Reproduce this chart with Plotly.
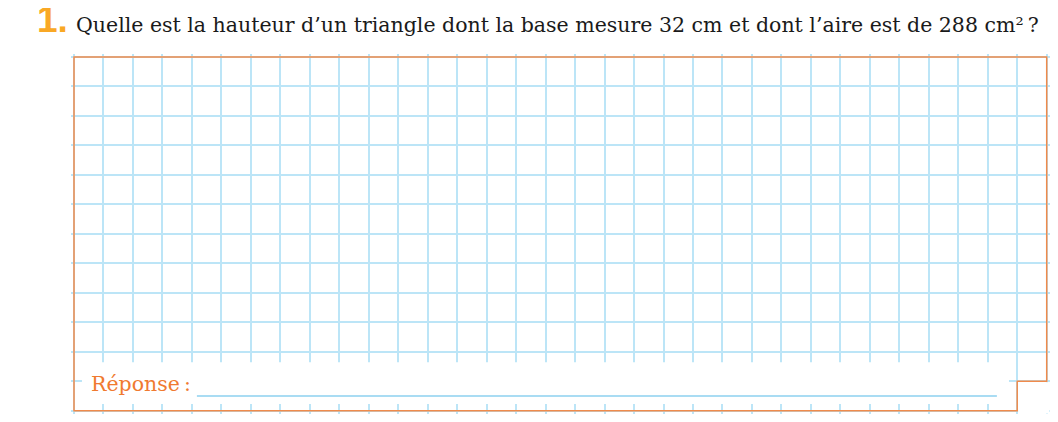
import plotly.graph_objects as go

# worksheet content
question_num = "1."
base_cm = 32
area_cm2 = 288
question = "Quelle est la hauteur d’un triangle dont la base mesure {} cm et dont l’aire est de {} cm²\u202f?".format(base_cm, area_cm2)
answer_label = "Réponse\u202f:"

# squared paper
n_cols = 33
n_rows = 12

# the page body adds an 8px margin, so the figure is drawn 8px in
off = 8
W, H = 1058 - 2 * off, 422 - 2 * off
box_left, box_right = 74 - off, 1046.7 - off
box_top, box_bottom = 57 - off, 410.8 - off
cell = (box_right - box_left) / n_cols
pad = 0.1  # a bit of room so the border is not clipped

orange = "#F08A4B"
grid_blue = "#BCE5F7"
serif = "DejaVu Serif, serif"

fig = go.Figure()
# invisible trace so the axes are drawn
fig.add_trace(go.Scatter(x=[0, n_cols], y=[0, n_rows], mode="markers",
                         marker=dict(opacity=0, size=1), hoverinfo="skip", showlegend=False))

fig.update_layout(
    width=W, height=H,
    margin=dict(l=0, r=0, t=0, b=0),
    paper_bgcolor="white", plot_bgcolor="white",
    showlegend=False,
    xaxis=dict(range=[-pad, n_cols + pad],
               domain=[(box_left - pad * cell) / W, min(1, (box_right + pad * cell) / W)],
               dtick=1, tick0=0, showgrid=True, gridcolor=grid_blue, gridwidth=2,
               showticklabels=False, zeroline=False, showline=False, ticks=""),
    yaxis=dict(range=[n_rows + pad, -pad],
               domain=[max(0, 1 - (box_bottom + pad * cell) / H), 1 - (box_top - pad * cell) / H],
               dtick=1, tick0=0, showgrid=True, gridcolor=grid_blue, gridwidth=2,
               showticklabels=False, zeroline=False, showline=False, ticks=""),
)

shapes = []
# white band for the answer
shapes.append(dict(type="rect", xref="x", yref="y", x0=0.27, x1=n_cols - 1.28, y0=n_rows - 1.65, y1=n_rows - 0.23,
                   fillcolor="white", line=dict(width=0), layer="above"))
# cut-out bottom right corner
shapes.append(dict(type="rect", xref="x", yref="y", x0=n_cols - 1 + 0.03, x1=n_cols + pad, y0=n_rows - 1 + 0.03, y1=n_rows + pad,
                   fillcolor="white", line=dict(width=0), layer="above"))
# answer line
shapes.append(dict(type="line", xref="x", yref="y", x0=4.17, x1=31.31, y0=n_rows - 0.5, y1=n_rows - 0.5,
                   line=dict(color="#A9DCF3", width=2), layer="above"))
# orange border
path = "M 0,0 L {c},0 L {c},{r1} L {c1},{r1} L {c1},{r} L 0,{r} Z".format(c=n_cols, c1=n_cols - 1, r=n_rows, r1=n_rows - 1)
shapes.append(dict(type="path", xref="x", yref="y", path=path,
                   line=dict(color=orange, width=1.5), layer="above"))
# small tab at the top
shapes.append(dict(type="rect", xref="paper", yref="paper", x0=(880 - off) / W, x1=(965 - off) / W,
                   y0=1 - (2 - off) / H, y1=1 - (0 - off) / H,
                   fillcolor="#E1F3FB", line=dict(width=0), layer="above"))
fig.update_layout(shapes=shapes)


def px(x, y):
    return (x - off) / W, 1 - (y - off) / H


x, y = px(35, 19)
fig.add_annotation(text="<b>" + question_num + "</b>", xref="paper", yref="paper",
                   x=x, y=y, xanchor="left", yanchor="middle", showarrow=False,
                   font=dict(family="Liberation Sans, Arial", size=37, color="#F9A825"))
x, y = px(74, 25)
fig.add_annotation(text=question, xref="paper", yref="paper",
                   x=x, y=y, xanchor="left", yanchor="middle", showarrow=False,
                   font=dict(family=serif, size=20.5, color="#1a1a1a"))
x, y = px(89, 384)
fig.add_annotation(text=answer_label, xref="paper", yref="paper",
                   x=x, y=y, xanchor="left", yanchor="middle", showarrow=False,
                   font=dict(family=serif, size=20.5, color="#F07A30"))

fig.write_html("out.html")
